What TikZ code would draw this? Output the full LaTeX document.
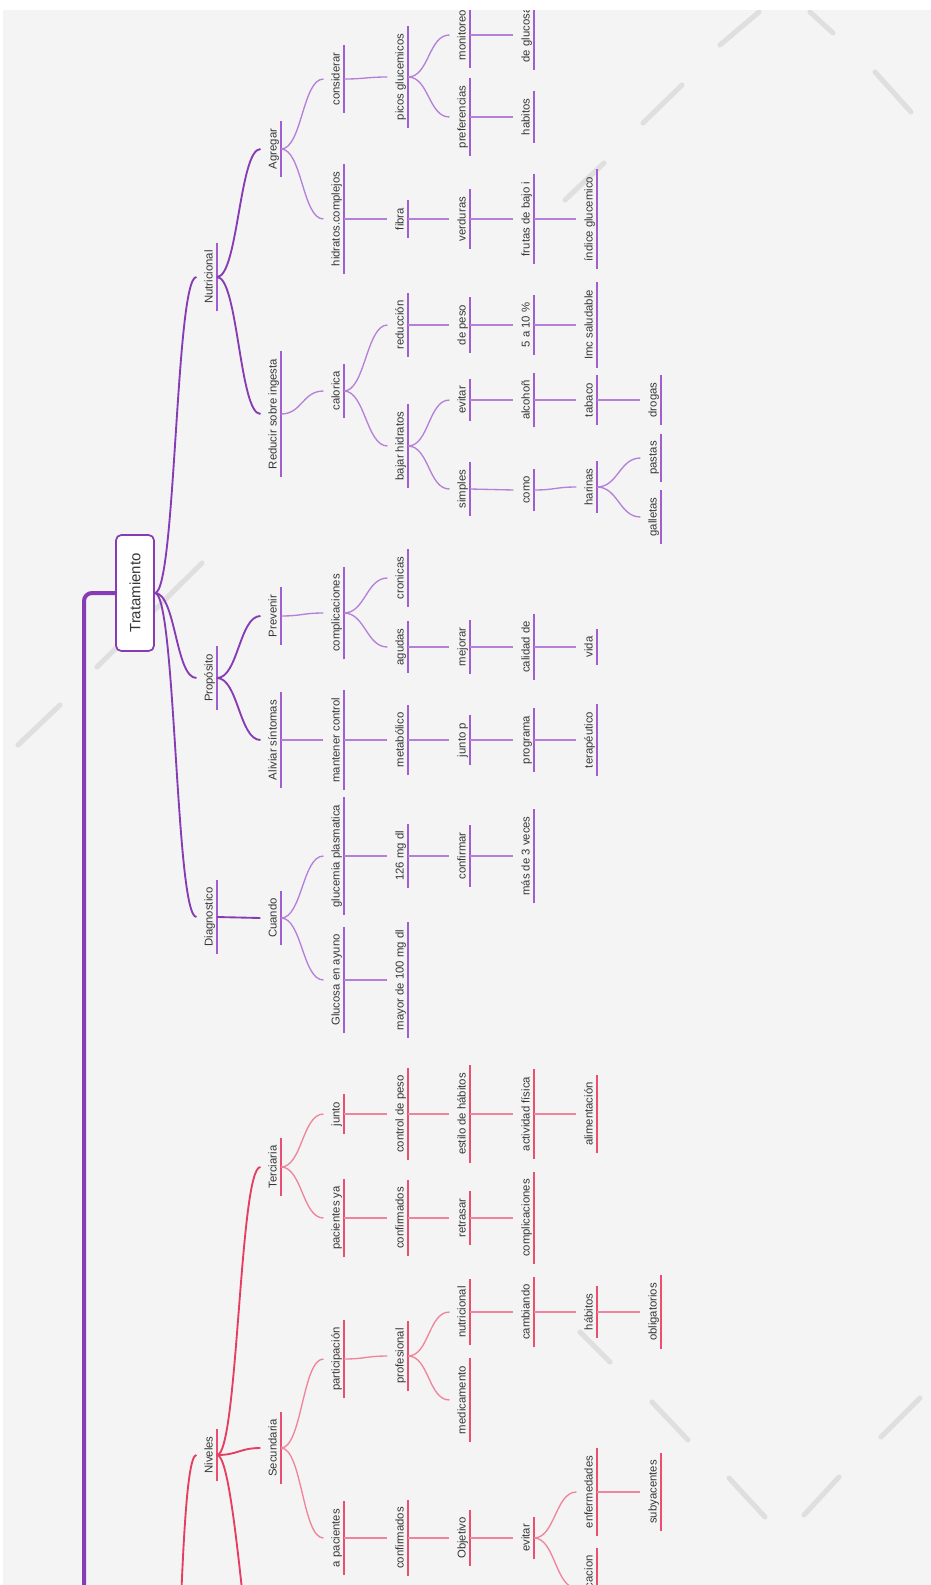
\documentclass[tikz,border=0pt]{standalone}
\usepackage{fontspec}
\setmainfont{Liberation Sans}
\definecolor{fondo}{RGB}{244,244,244}
\definecolor{raya}{RGB}{223,223,223}
\definecolor{moradoosc}{RGB}{134,60,180}
\definecolor{morado}{RGB}{160,94,206}
\definecolor{moradocl}{RGB}{182,128,218}
\definecolor{rojoosc}{RGB}{230,62,98}
\definecolor{rojo}{RGB}{234,78,112}
\definecolor{rojocl}{RGB}{240,132,154}
\definecolor{texto}{RGB}{55,55,55}

\tikzset{
  tema/.style={rotate=90, anchor=south, font=\fontsize{8.5}{10}\selectfont, text=texto,
    inner xsep=5.5pt, inner ysep=3pt, text height=9pt, text depth=0pt},
  pnodo/.style={tema, append after command={(\tikzlastnode.south west) edge[morado, line width=1.4pt] (\tikzlastnode.south east)}},
  rnodo/.style={tema, append after command={(\tikzlastnode.south west) edge[rojo, line width=1.4pt] (\tikzlastnode.south east)}},
  raiz/.style={rotate=90, draw=moradoosc, line width=1.3pt, fill=white, rounded corners=4pt,
    minimum width=87pt, minimum height=28.5pt, font=\fontsize{11.2}{13}\selectfont, text=texto},
  pgrueso/.style={moradoosc, line width=1.4pt},
  pfino/.style={moradocl, line width=1pt},
  rgrueso/.style={rojoosc, line width=1.4pt},
  rfino/.style={rojocl, line width=1pt},
  marca/.style={raya, line width=3.8pt, line cap=round}
}

\begin{document}
\begin{tikzpicture}[x=0.75pt,y=-0.75pt]
\useasboundingbox (0,0) rectangle (931,1585);
\fill[white] (0,0) rectangle (931,1585);
\begin{scope}
\clip (3,10) rectangle (931,1585);
\fill[fondo] (3,10) rectangle (931,1585);

% marcas grises del fondo
\draw[marca] (720,45) -- (759,12);
\draw[marca] (810,12) -- (833,33);
\draw[marca] (643,123) -- (682,85);
\draw[marca] (875,72) -- (911,112);
\draw[marca] (565,200) -- (604,163);
\draw[marca] (202,563) -- (97,667);
\draw[marca] (60,705) -- (18,745);
\draw[marca] (580,1332) -- (610,1362);
\draw[marca] (652,1402) -- (688,1440);
\draw[marca] (881,1437) -- (920,1398);
\draw[marca] (729,1478) -- (765,1517);
\draw[marca] (804,1515) -- (839,1477);

% tema central
\node[raiz] (root) at (135,593) {Tratamiento};
\draw[moradoosc, line width=3pt, rounded corners=6pt] (root.north) -| (84,1600);

% nivel 1
\node[pnodo] (nutri) at (217,277) {Nutricional};
\node[pnodo] (propo) at (217,678) {Propósito};
\node[pnodo] (diag) at (217,917) {Diagnostico};
% nivel 2
\node[pnodo] (agregar) at (281,149) {Agregar};
\node[pnodo] (reducir) at (281,414) {Reducir sobre ingesta};
\node[pnodo] (prevenir) at (281,616) {Prevenir};
\node[pnodo] (aliviar) at (281,740) {Aliviar síntomas};
\node[pnodo] (cuando) at (281,918) {Cuando};
% nivel 3
\node[pnodo] (considerar) at (344,79) {considerar};
\node[pnodo] (hidratos) at (344,219) {hidratos.complejos};
\node[pnodo] (calorica) at (344,391) {calorica};
\node[pnodo] (complic) at (344,613) {complicaciones};
\node[pnodo] (mantener) at (344,740) {mantener control};
\node[pnodo] (glucemia) at (344,856) {glucemia plasmatica};
\node[pnodo] (glucosa) at (344,980) {Glucosa en ayuno};
% nivel 4
\node[pnodo] (picos) at (408,77) {picos glucemicos};
\node[pnodo] (fibra) at (408,219) {fibra};
\node[pnodo] (reduccion) at (408,325) {reducción};
\node[pnodo] (bajar) at (408,446) {bajar hidratos};
\node[pnodo] (cronicas) at (408,578) {cronicas};
\node[pnodo] (agudas) at (408,647) {agudas};
\node[pnodo] (metab) at (408,740) {metabólico};
\node[pnodo] (mg126) at (408,856) {126 mg dl};
\node[pnodo] (mayor) at (408,980) {mayor de 100 mg dl};
% nivel 5
\node[pnodo] (monitoreo) at (470,35) {monitoreo};
\node[pnodo] (preferencias) at (470,117) {preferencias};
\node[pnodo] (verduras) at (470,219) {verduras};
\node[pnodo] (depeso) at (470,325) {de peso};
\node[pnodo] (evitarA) at (470,400) {evitar};
\node[pnodo] (simples) at (470,489) {simples};
\node[pnodo] (mejorar) at (470,647) {mejorar};
\node[pnodo] (juntop) at (470,740) {junto p};
\node[pnodo] (confirmar) at (470,856) {confirmar};
% nivel 6
\node[pnodo] (deglucosa) at (534,35) {de glucosa};
\node[pnodo] (habitos) at (534,117) {habitos};
\node[pnodo] (frutas) at (534,219) {frutas de bajo i};
\node[pnodo] (cinco) at (534,325) {5 a 10 \%};
\node[pnodo] (alcohol) at (534,400) {alcohoñ};
\node[pnodo] (como) at (534,490) {como};
\node[pnodo] (calidad) at (534,647) {calidad de};
\node[pnodo] (programa) at (534,740) {programa};
\node[pnodo] (masde) at (534,856) {más de 3 veces};
% nivel 7
\node[pnodo] (indice) at (597,219) {índice glucemico};
\node[pnodo] (imc) at (597,325) {Imc saludable};
\node[pnodo] (tabaco) at (597,400) {tabaco};
\node[pnodo] (harinas) at (597,487) {harinas};
\node[pnodo] (vida) at (597,647) {vida};
\node[pnodo] (terapeutico) at (597,740) {terapéutico};
% nivel 8
\node[pnodo] (drogas) at (661,400) {drogas};
\node[pnodo] (pastas) at (661,458) {pastas};
\node[pnodo] (galletas) at (661,517) {galletas};

% ramas moradas
\foreach \a/\b in {root/nutri, root/propo, root/diag, nutri/agregar, nutri/reducir,
  propo/prevenir, propo/aliviar, diag/cuando}
  \draw[pgrueso] (\a.south) .. controls +(21,0) and +(-21,0) .. (\b.north);
\foreach \a/\b in {agregar/considerar, agregar/hidratos, considerar/picos, picos/monitoreo,
  picos/preferencias, monitoreo/deglucosa, preferencias/habitos, hidratos/fibra, fibra/verduras,
  verduras/frutas, frutas/indice, reducir/calorica, calorica/reduccion, calorica/bajar,
  reduccion/depeso, depeso/cinco, cinco/imc, bajar/evitarA, bajar/simples, evitarA/alcohol,
  alcohol/tabaco, tabaco/drogas, simples/como, como/harinas, harinas/pastas, harinas/galletas,
  prevenir/complic, complic/cronicas, complic/agudas, agudas/mejorar, mejorar/calidad,
  calidad/vida, aliviar/mantener, mantener/metab, metab/juntop, juntop/programa,
  programa/terapeutico, cuando/glucemia, cuando/glucosa, glucemia/mg126, mg126/confirmar,
  confirmar/masde, glucosa/mayor}
  \draw[pfino] (\a.south) .. controls +(21,0) and +(-21,0) .. (\b.north);

% rama roja (viene de abajo)
\coordinate (raizb) at (160,1900);
\coordinate (primaria) at (272,1770);
\node[rnodo] (niveles) at (217,1455) {Niveles};
\node[rnodo] (terciaria) at (281,1167) {Terciaria};
\node[rnodo] (secundaria) at (281,1448) {Secundaria};
\node[rnodo] (junto) at (344,1114) {junto};
\node[rnodo] (pacya) at (344,1218) {pacientes ya};
\node[rnodo] (particip) at (344,1359) {participación};
\node[rnodo] (apac) at (344,1538) {a pacientes};
\node[rnodo] (controlpeso) at (408,1114) {control de peso};
\node[rnodo] (confa) at (408,1218) {confirmados};
\node[rnodo] (profesional) at (408,1356) {profesional};
\node[rnodo] (confb) at (408,1538) {confirmados};
\node[rnodo] (estilo) at (470,1114) {estilo de hábitos};
\node[rnodo] (retrasar) at (470,1218) {retrasar};
\node[rnodo] (nutricional) at (470,1312) {nutricional};
\node[rnodo] (medicamento) at (470,1400) {medicamento};
\node[rnodo] (objetivo) at (470,1538) {Objetivo};
\node[rnodo] (actividad) at (534,1114) {actividad física};
\node[rnodo] (complicb) at (534,1218) {complicaciones};
\node[rnodo] (cambiando) at (534,1312) {cambiando};
\node[rnodo] (evitarB) at (534,1538) {evitar};
\node[rnodo] (alimentacion) at (597,1114) {alimentación};
\node[rnodo] (habitosb) at (597,1312) {hábitos};
\node[rnodo] (enferm) at (597,1492) {enfermedades};
\node[rnodo] (complicacion) at (597,1588) {complicacion};
\node[rnodo] (obligatorios) at (661,1312) {obligatorios};
\node[rnodo] (subyac) at (661,1492) {subyacentes};

\draw[rgrueso] (raizb) .. controls +(21,0) and +(-21,0) .. (niveles.north);
\draw[rgrueso] (niveles.south) .. controls +(21,0) and +(-21,0) .. (primaria);
\foreach \a/\b in {niveles/terciaria, niveles/secundaria}
  \draw[rgrueso] (\a.south) .. controls +(21,0) and +(-21,0) .. (\b.north);
\foreach \a/\b in {terciaria/junto, terciaria/pacya, junto/controlpeso, controlpeso/estilo,
  estilo/actividad, actividad/alimentacion, pacya/confa, confa/retrasar, retrasar/complicb,
  secundaria/particip, secundaria/apac, particip/profesional, profesional/nutricional,
  profesional/medicamento, nutricional/cambiando, cambiando/habitosb, habitosb/obligatorios,
  apac/confb, confb/objetivo, objetivo/evitarB, evitarB/enferm, evitarB/complicacion,
  enferm/subyac}
  \draw[rfino] (\a.south) .. controls +(21,0) and +(-21,0) .. (\b.north);
\end{scope}
\end{tikzpicture}
\end{document}
